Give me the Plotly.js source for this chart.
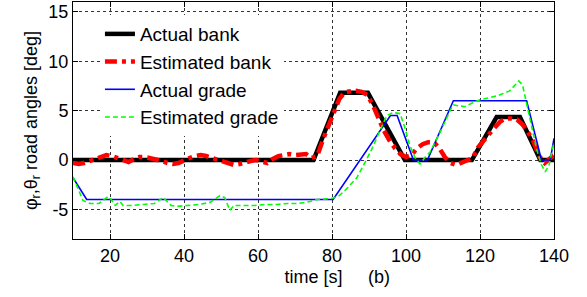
<!DOCTYPE html>
<html>
<head>
<meta charset="utf-8">
<script src="https://cdn.plot.ly/plotly-3.0.1.min.js"></script>
<style>html,body{margin:0;padding:0;background:#fff;}#chart{width:587px;height:297px;}</style>
</head>
<body>
<div id="chart"></div>
<script>
// Actual bank angle
const actualBankT = [10, 75, 82.2, 89.7, 99.7, 117.8, 124.5, 130.8, 136.3, 140];
const actualBankV = [0, 0, 6.8, 6.8, 0, 0, 4.35, 4.35, 0, 0];

// Estimated bank angle
const estBankT = [10, 11.5, 13, 14.5, 16, 17.5, 19, 20.5, 22, 23.5, 25, 26.5, 28, 29.5, 31, 32.5, 34, 35.5, 37, 38.5,
  40, 41.5, 43, 44.5, 46, 47.5, 49, 50.5, 52, 53.5, 55, 56.5, 58, 59.5, 61, 62.5, 64, 65.5, 67, 68.5,
  70, 71.5, 73, 74.5, 76, 77.5, 79, 80.5, 82, 83.5, 85, 86.5, 88, 89.5, 91, 92.5, 94, 95.5, 97, 98.5,
  100, 101.5, 103, 104.5, 106, 107.5, 109, 110.5, 112, 113.5, 115, 116.5, 118, 119.5, 121, 122.5, 124, 125.5, 127, 128.5,
  130, 131.5, 133, 134.5, 136, 137.5, 139, 140];
const estBankV = [-0.3, -0.4, -0.3, -0.1, 0.1, 0.3, 0.5, 0.4, 0.2, -0.1, -0.2, 0.1, 0.3, 0.3, 0.2, 0.0, -0.1, -0.3, -0.4, -0.3,
  0.0, 0.2, 0.4, 0.5, 0.4, 0.2, 0.1, -0.1, -0.3, -0.5, -0.4, -0.2, -0.1, 0.0, -0.1, -0.3, 0.1, 0.4, 0.5, 0.6,
  0.5, 0.6, 0.6, 0.2, 0.4, 2.0, 3.5, 5.0, 6.2, 6.9, 7.0, 7.0, 6.9, 6.6, 5.6, 4.3, 3.0, 2.0, 1.2, 0.6,
  0.3, 0.5, 1.2, 1.6, 1.8, 1.8, 1.2, 0.3, -0.3, -0.5, -0.3, 0.0, 0.2, 1.3, 2.0, 2.6, 3.3, 3.9, 4.2, 4.2,
  4.1, 3.6, 2.8, 1.8, 0.4, -0.3, 0.2, 0.5];

// Actual grade angle
const actualGradeT = [10, 13.7, 80.3, 95.8, 97.6, 102, 105.8, 112.8, 132.6, 136.6, 139, 140];
const actualGradeV = [-1.8, -4.0, -4.0, 4.5, 4.5, 0, 0, 6.0, 6.0, 0, 0, 2.2];

// Estimated grade angle
const estGradeT = [10, 12.7, 14.6, 17, 19.5, 20.5, 21.4, 22.7, 23.5, 26, 29, 32, 34.4, 35.5, 36.5, 38, 41, 44, 47, 49.7,
  51, 52.4, 53.5, 56, 59, 62, 65, 68, 71, 74, 76, 80, 82, 84, 86.7, 89, 91, 93, 94.8, 96.5,
  98.4, 99.5, 101, 102.5, 103.8, 105, 106.5, 109.2, 111, 112.7, 114, 116, 118, 120, 122.5, 125.4, 128, 129.5, 130.5, 131.5,
  132.6, 134, 135.3, 136.5, 137.6, 138.6, 139.7, 140];
const estGradeV = [-1.7, -4.1, -4.4, -4.4, -3.7, -4.1, -4.6, -4.2, -4.6, -4.6, -4.5, -4.4, -3.8, -4.2, -4.6, -4.7, -4.6, -4.5, -4.3, -3.6,
  -3.8, -5.1, -4.6, -4.6, -4.6, -4.5, -4.5, -4.4, -4.4, -4.2, -4.0, -3.9, -3.6, -2.9, -1.8, -0.2, 1.3, 3.0, 4.5, 4.8,
  4.7, 3.5, 1.5, 0.2, -0.4, 0.2, 0.8, 2.8, 4.3, 5.6, 5.5, 5.4, 5.8, 6.1, 6.3, 6.6, 7.0, 7.6, 8.0, 7.6,
  5.8, 3.5, 1.1, -0.4, -1.2, -0.6, 1.4, 1.8];

const xTicks = [20, 40, 60, 80, 100, 120, 140];
const yTicks = [-5, 0, 5, 10, 15];

const font = {family: 'Liberation Sans, Arial, sans-serif', size: 18, color: '#000'};
const legendFont = {family: 'Liberation Sans, Arial, sans-serif', size: 19, color: '#000'};

const traces = [
  {x: actualBankT, y: actualBankV, name: 'Actual bank', mode: 'lines', legendgroup: 'a',
   line: {color: '#000000', width: 4.5}},
  {x: estBankT, y: estBankV, name: 'Estimated bank', mode: 'lines', legendgroup: 'b',
   line: {color: '#ff0000', width: 4.5, dash: '12px,5px,4px,5px'}},
  {x: actualGradeT, y: actualGradeV, name: 'Actual grade', mode: 'lines', legendgroup: 'c',
   line: {color: '#0000ff', width: 1.6}},
  {x: estGradeT, y: estGradeV, name: 'Estimated grade', mode: 'lines', legendgroup: 'd',
   line: {color: '#00ff00', width: 1.6, dash: '5px,3px'}}
];

const axisCommon = {
  showline: true, linecolor: '#000', linewidth: 1, mirror: 'ticks',
  ticks: 'inside', ticklen: 5, tickcolor: '#000',
  showgrid: true, gridcolor: '#333', gridwidth: 1, griddash: '3px,3px',
  zeroline: false, tickfont: font
};

const layout = {
  width: 587, height: 297,
  margin: {l: 73, r: 33, t: 2, b: 58},
  paper_bgcolor: '#fff', plot_bgcolor: '#fff',
  font: font,
  showlegend: true,
  legend: {x: 0.056, y: 0.945, xanchor: 'left', yanchor: 'top', bgcolor: '#fff', borderwidth: 0,
           font: legendFont, tracegroupgap: 0},
  xaxis: Object.assign({}, axisCommon, {
    range: [10, 140], tickvals: xTicks, ticktext: xTicks.map(String),
    title: {text: 'time [s]', font: font, standoff: 5}
  }),
  yaxis: Object.assign({}, axisCommon, {
    range: [-8, 16], tickvals: yTicks, ticktext: yTicks.map(String),
    title: {text: 'φ<sub>r</sub>,θ<sub>r</sub> road angles [deg]', font: font, standoff: 6}
  }),
  annotations: [
    {text: '(b)', xref: 'paper', yref: 'paper', x: (379 - 73) / 481, y: -0.16, xanchor: 'center', yanchor: 'middle',
     showarrow: false, font: font}
  ]
};

Plotly.newPlot('chart', traces, layout, {displayModeBar: false, staticPlot: true});
</script>
</body>
</html>
